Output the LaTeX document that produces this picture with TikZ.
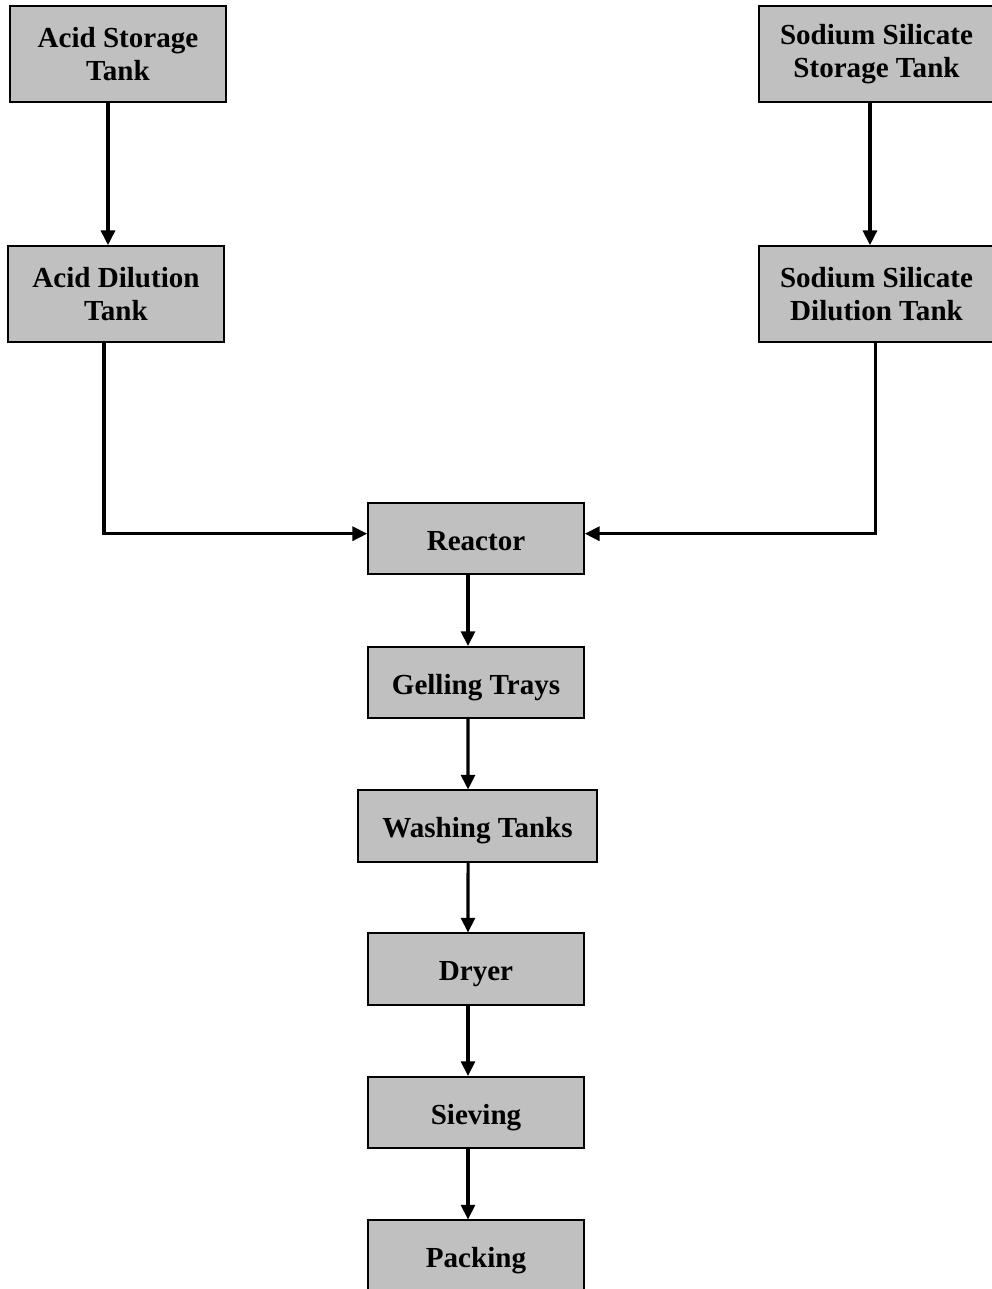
\documentclass[tikz,border=0pt]{standalone}
\usepackage{fontspec}
\setmainfont{Liberation Serif}
\usepackage{tikz}
\usetikzlibrary{arrows.meta}
\definecolor{boxgray}{RGB}{192,192,192}

\begin{document}
\begin{tikzpicture}[x=0.75pt, y=-0.75pt,
		unit/.style={draw=black, line width=1.3pt, fill=boxgray, inner sep=0pt, align=center,
			font=\fontsize{21.8pt}{25pt}\selectfont\bfseries, minimum width=162pt, minimum height=72pt},
		smallunit/.style={unit, minimum height=53.5pt, text height=18.5pt, text depth=0.7pt},
		flow/.style={line width=2.3pt, -{Triangle[length=11pt,width=10.5pt]}}]
		% frame
		\useasboundingbox (0,0) rectangle (992,1289);
		\node[unit] (acidstore) at (118,54) {Acid Storage\\Tank}; %% acid storage
		\node[unit] (aciddilute) at (116,294) {Acid Dilution\\Tank}; %% acid dilution
		\node[unit, minimum width=176pt] (sodstore) at (876.5,54) {Sodium Silicate\\Storage Tank}; %% silicate storage
		\node[unit, minimum width=176pt] (soddilute) at (876.5,294) {Sodium Silicate\\Dilution Tank}; %% silicate dilution
		\node[smallunit] (reactor) at (476,538.5) {Reactor}; %% reactor
		\node[smallunit] (gelling) at (476,682.5) {Gelling Trays}; %% gelling
		\node[smallunit, minimum width=179pt] (washing) at (477.5,826) {Washing Tanks}; %% washing
		\node[smallunit] (dryer) at (476,969) {Dryer}; %% dryer
		\node[smallunit] (sieving) at (476,1112.5) {Sieving}; %% sieving
		\node[smallunit] (packing) at (476,1256) {Packing}; %% packing
		% feed lines
		\draw[flow] ([xshift=-7.5pt]acidstore.south) -- ([xshift=-6pt]aciddilute.north);
		\draw[flow] ([xshift=-4.9pt]sodstore.south) -- ([xshift=-4.9pt]soddilute.north);
		\draw[flow] ([xshift=-9pt]aciddilute.south) |- ([yshift=3.6pt]reactor.west);
		\draw[flow] ([xshift=-1.1pt]soddilute.south) |- ([yshift=3.6pt]reactor.east);
		% main line
		\draw[flow] ([xshift=-6pt]reactor.south) -- ([xshift=-6pt]gelling.north);
		\draw[flow] ([xshift=-6pt]gelling.south) -- ([xshift=-7.1pt]washing.north);
		\draw[flow] ([xshift=-7.1pt]washing.south) -- ([xshift=-6pt]dryer.north);
		\draw[flow] ([xshift=-6pt]dryer.south) -- ([xshift=-6pt]sieving.north);
		\draw[flow] ([xshift=-6pt]sieving.south) -- ([xshift=-6pt]packing.north);
	\end{tikzpicture}
\end{document}
